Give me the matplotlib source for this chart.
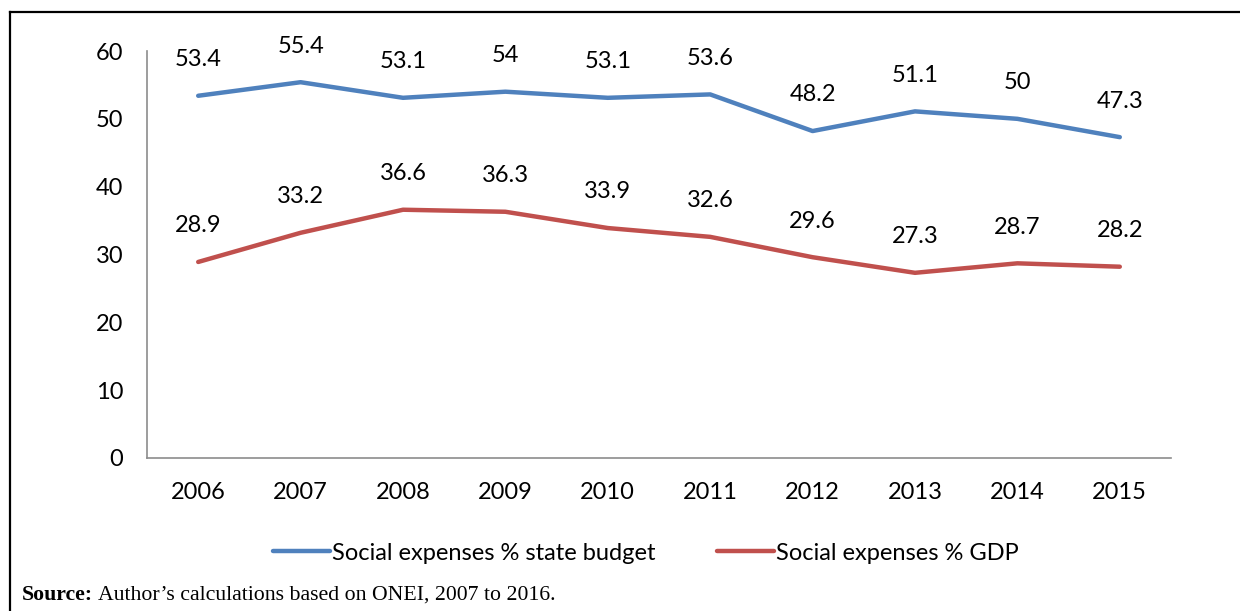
import matplotlib
matplotlib.use("Agg")
import matplotlib.pyplot as plt
from matplotlib.lines import Line2D

years = ["2006", "2007", "2008", "2009", "2010", "2011", "2012", "2013", "2014", "2015"]
budget_share = [53.4, 55.4, 53.1, 54, 53.1, 53.6, 48.2, 51.1, 50, 47.3]
gdp_share = [28.9, 33.2, 36.6, 36.3, 33.9, 32.6, 29.6, 27.3, 28.7, 28.2]
y_ticks = [0, 10, 20, 30, 40, 50, 60]

BLUE = "#4F81BD"
RED = "#C0504D"

plt.rcParams["font.family"] = ["Lato", "DejaVu Sans"]

W, H = 1240, 611
fig = plt.figure(figsize=(W / 100, H / 100), dpi=100)
ax = fig.add_axes([147 / W, 1 - 458 / H, (1171 - 147) / W, (458 - 51) / H])

x = list(range(len(years)))
ax.plot(x, budget_share, color=BLUE, lw=3.2, solid_capstyle="round",
        label="Social expenses % state budget")
ax.plot(x, gdp_share, color=RED, lw=3.2, solid_capstyle="round",
        label="Social expenses % GDP")

for series in (budget_share, gdp_share):
    for xi, v in zip(x, series):
        ax.annotate(f"{v:g}", (xi, v), xytext=(0, 26), textcoords="offset points",
                    ha="center", va="center", fontsize=17)

ax.set_xlim(-0.5, len(years) - 0.5)
ax.set_ylim(0, 60)
ax.set_yticks(y_ticks)
ax.set_xticks(x)
ax.set_xticklabels(years)
ax.tick_params(axis="both", length=0, labelsize=17)
ax.tick_params(axis="y", pad=17)
ax.tick_params(axis="x", pad=17)
for side in ("top", "right"):
    ax.spines[side].set_visible(False)
for side in ("left", "bottom"):
    ax.spines[side].set_color("#8c8c8c")
    ax.spines[side].set_linewidth(1.2)

ax.legend(loc="center", bbox_to_anchor=(646 / W, 1 - 553 / H),
          bbox_transform=fig.transFigure, ncol=2, frameon=False,
          fontsize=17, handlelength=2.4, handletextpad=0.1, columnspacing=2.6)

# outer frame
fig.add_artist(Line2D([10 / W, 10 / W], [0, 1 - 12 / H], color="black", lw=1.6,
                      transform=fig.transFigure))
fig.add_artist(Line2D([10 / W, 1], [1 - 12 / H, 1 - 12 / H], color="black", lw=1.6,
                      transform=fig.transFigure))

# source note: bold lead-in followed by the plain text
src_bold = fig.text(22 / W, 1 - 595 / H, "Source:", fontsize=15.7, fontweight="bold",
                    family="Liberation Serif", va="center")
renderer = fig.canvas.get_renderer()
bb = src_bold.get_window_extent(renderer)
fig.text((bb.x1 + 5) / W, 1 - 595 / H,
         "Author\u2019s calculations based on ONEI, 2007 to 2016.",
         fontsize=15.7, family="Liberation Serif", va="center")

fig.savefig("out.png", dpi=100)
